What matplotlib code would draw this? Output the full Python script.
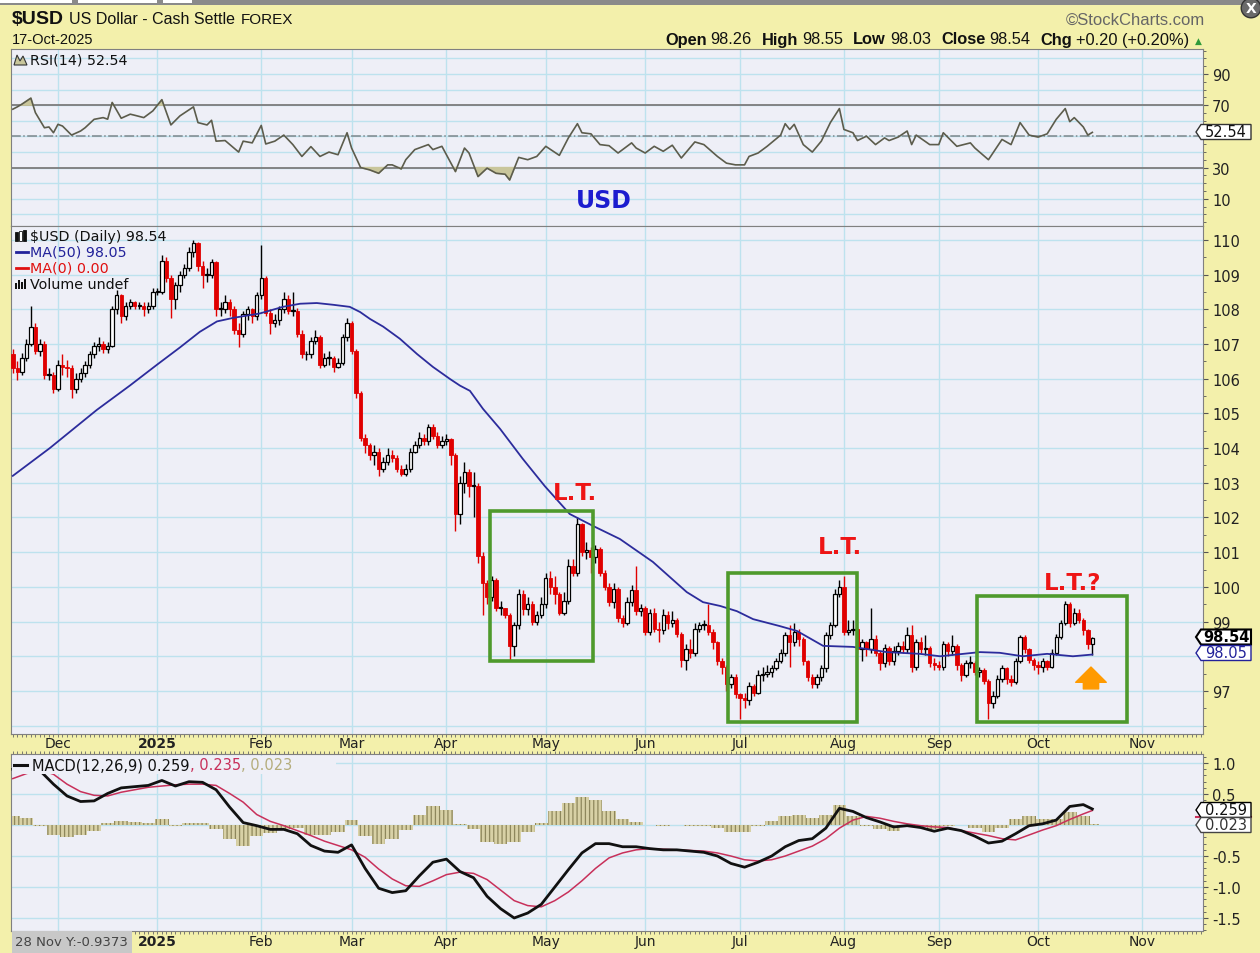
import numpy as np
import pandas as pd
import matplotlib
matplotlib.use('Agg')
import matplotlib.pyplot as plt
from matplotlib.patches import Rectangle, Polygon
from matplotlib.lines import Line2D
from matplotlib.ticker import MultipleLocator
from matplotlib.transforms import blended_transform_factory

plt.rcParams['font.family'] = ['DejaVu Sans']
plt.rcParams['hatch.color'] = '#8E875C'
plt.rcParams['hatch.linewidth'] = 0.9

# ---- daily candles, trading-day index 0 = 2 Dec 2024 (first bar = 18 Nov 2024) ----
first_open = 106.70
closes = [
    # Nov
    106.3, 106.2, 106.6, 107.0, 107.5, 106.8, 107.0, 106.1, 106.1, 105.7,
    # Dec
    106.4, 106.35, 106.3, 105.7, 106.0, 106.15, 106.4, 106.7, 106.95, 107.0,
    106.85, 106.95, 108.0, 108.4, 107.8, 108.1, 108.2, 108.1, 108.1, 108.0,
    108.1, 108.5,
    # Jan
    108.5, 109.4, 108.9, 108.3, 108.7, 109.0, 109.2, 109.65, 109.9, 109.25,
    109.0, 109.0, 109.35, 108.0, 108.0, 108.2, 108.0, 107.4, 107.3, 107.85,
    108.0, 107.8, 108.4,
    # Feb
    108.9, 107.9, 107.6, 107.7, 108.0, 108.3, 107.95, 107.95, 107.3, 106.7,
    106.7, 107.1, 107.2, 106.4, 106.6, 106.6, 106.35, 106.45, 107.2, 107.6,
    # Mar
    106.8, 105.6, 104.3, 104.1, 103.8, 103.9, 103.4, 103.6, 103.8, 103.7,
    103.4, 103.25, 103.4, 103.9, 104.1, 104.3, 104.2, 104.6, 104.35, 104.1, 104.2,
    # Apr
    104.25, 103.8, 102.1, 103.0, 103.3, 102.9, 102.9, 100.9, 100.1, 99.7,
    100.2, 99.4, 99.4, 99.2, 98.3, 98.9, 99.8, 99.35, 99.5, 99.0, 99.2, 99.5,
    # May
    100.25, 100.0, 99.8, 99.25, 99.6, 100.6, 100.4, 101.8, 101.0, 101.05,
    100.85, 101.1, 100.4, 100.0, 99.55, 99.95, 99.1, 98.95, 99.55, 99.9, 99.3, 99.4,
    # Jun
    98.7, 99.25, 98.8, 98.75, 99.2, 98.95, 99.05, 98.65, 97.9, 98.2,
    98.1, 98.8, 98.9, 98.9, 98.7, 98.4, 97.85, 97.7, 97.2, 97.4, 96.9,
    # Jul
    96.8, 96.75, 97.15, 96.95, 97.45, 97.5, 97.55, 97.65, 97.85, 98.1,
    98.6, 98.4, 98.7, 98.5, 97.85, 97.4, 97.2, 97.4, 97.65, 98.6, 98.9, 99.8, 100.0,
    # Aug
    98.7, 98.75, 98.8, 98.2, 98.4, 98.2, 98.5, 98.1, 97.8, 98.25,
    97.85, 98.15, 98.3, 98.2, 98.6, 97.7, 98.4, 98.2, 98.25, 97.8, 97.75,
    # Sep
    97.7, 98.35, 98.15, 98.3, 97.75, 97.45, 97.8, 97.8, 97.55, 97.6,
    97.3, 96.65, 96.85, 97.35, 97.65, 97.35, 97.25, 97.85, 98.55, 98.2, 97.9, 97.75,
    # Oct
    97.7, 97.85, 97.7, 98.1, 98.55, 98.95, 99.5, 98.95, 99.25, 99.05, 98.75, 98.34, 98.54,
]
highs = [
    106.85, 106.5, 106.75, 107.15, 108.1, 107.6, 107.15, 107.1, 106.3, 106.2,
    106.55, 106.7, 106.55, 106.4, 106.15, 106.3, 106.5, 106.8, 107.05, 107.2,
    107.1, 107.05, 108.1, 108.55, 108.45, 108.2, 108.3, 108.25, 108.2, 108.2,
    108.2, 108.6,
    108.6, 109.55, 109.5, 109.0, 108.8, 109.1, 109.3, 109.8, 110.0, 109.95,
    109.4, 109.2, 109.45, 109.4, 108.2, 108.4, 108.3, 108.1, 107.6, 107.95,
    108.1, 108.05, 108.5,
    109.85, 108.95, 108.0, 107.85, 108.1, 108.5, 108.4, 108.5, 108.05, 107.4,
    106.8, 107.2, 107.4, 107.25, 106.75, 106.8, 106.65, 106.6, 107.3, 107.75,
    107.65, 106.85, 105.65, 104.4, 104.15, 104.1, 104.0, 103.75, 104.0, 103.95,
    103.8, 103.5, 103.55, 104.0, 104.2, 104.45, 104.4, 104.7, 104.7, 104.45, 104.35,
    104.4, 104.3, 103.85, 103.2, 103.6, 103.4, 103.3, 103.0, 101.0, 100.2,
    100.3, 100.25, 99.6, 99.4, 99.25, 99.0, 99.95, 99.9, 99.7, 99.6, 99.3, 99.7,
    100.4, 100.45, 100.3, 99.85, 99.85, 100.8, 100.8, 102.0, 101.85, 101.3,
    101.15, 101.2, 101.15, 100.5, 100.1, 100.1, 100.0, 99.2, 99.7, 100.05, 100.6, 99.5,
    99.45, 99.35, 99.4, 99.0, 99.35, 99.3, 99.3, 99.1, 98.7, 98.35,
    98.5, 98.95, 99.0, 99.05, 99.5, 98.8, 98.45, 97.95, 97.75, 97.5, 97.5,
    96.95, 96.95, 97.25, 97.2, 97.6, 97.7, 97.75, 97.75, 97.95, 98.2,
    98.7, 98.9, 98.95, 98.8, 98.55, 97.9, 97.5, 97.5, 97.75, 98.7, 99.0, 99.95, 100.2,
    100.3, 99.05, 99.05, 98.85, 98.5, 98.45, 99.4, 98.6, 98.15, 98.35,
    98.3, 98.3, 98.4, 98.45, 98.85, 98.9, 98.5, 98.55, 98.6, 98.3, 97.95,
    97.85, 98.45, 98.4, 98.6, 98.35, 97.8, 97.9, 98.0, 97.85, 97.7,
    97.65, 97.35, 97.0, 97.45, 97.75, 97.7, 97.45, 97.95, 98.6, 98.6, 98.25, 97.95,
    97.85, 97.95, 97.9, 98.2, 98.65, 99.05, 99.6, 99.55, 99.4, 99.35, 99.1, 98.8, 98.55,
]
lows = [
    106.15, 105.95, 106.1, 106.5, 106.95, 106.7, 106.65, 106.0, 105.95, 105.6,
    105.65, 106.1, 106.05, 105.45, 105.6, 105.9, 106.05, 106.3, 106.6, 106.8,
    106.75, 106.75, 106.9, 107.85, 107.6, 107.7, 108.0, 108.0, 108.0, 107.8,
    107.9, 108.0,
    108.4, 108.45, 108.8, 107.75, 108.0, 108.5, 108.9, 109.1, 109.5, 109.1,
    108.6, 108.8, 108.9, 107.8, 107.8, 107.9, 107.8, 107.3, 106.9, 107.2,
    107.7, 107.6, 107.7,
    108.3, 107.8, 107.3, 107.5, 107.55, 107.9, 107.85, 107.8, 107.2, 106.6,
    106.55, 106.6, 107.0, 106.3, 106.35, 106.4, 106.2, 106.3, 106.4, 107.1,
    106.7, 105.45, 104.2, 103.85, 103.65, 103.5, 103.2, 103.3, 103.5, 103.6,
    103.3, 103.2, 103.2, 103.3, 103.85, 104.0, 104.1, 104.1, 104.25, 104.0, 104.0,
    104.1, 103.5, 101.6, 101.8, 102.7, 102.6, 102.0, 100.7, 99.2, 99.5,
    99.6, 99.3, 99.2, 99.1, 97.9, 98.0, 98.8, 99.2, 99.2, 98.9, 98.9, 99.1,
    99.4, 99.8, 99.5, 99.2, 99.2, 99.5, 100.3, 100.3, 100.9, 100.8,
    100.4, 100.7, 100.3, 99.9, 99.45, 99.4, 99.0, 98.85, 98.9, 99.45, 99.2, 99.15,
    98.6, 98.6, 98.7, 98.4, 98.65, 98.8, 98.85, 98.55, 97.7, 97.6,
    97.95, 98.0, 98.7, 98.75, 98.6, 98.2, 97.75, 97.5, 97.0, 97.1, 96.8,
    96.2, 96.5, 96.6, 96.85, 96.9, 97.3, 97.4, 97.4, 97.6, 97.8,
    98.0, 97.7, 98.3, 98.3, 97.75, 97.3, 97.1, 97.1, 97.3, 97.55, 98.5, 98.85, 99.7,
    98.6, 98.6, 98.6, 98.1, 97.85, 98.0, 98.1, 98.0, 97.6, 97.7,
    97.75, 97.75, 98.05, 98.1, 98.1, 97.55, 97.6, 98.1, 98.05, 97.7, 97.6,
    97.6, 97.6, 98.0, 98.05, 97.6, 97.3, 97.4, 97.65, 97.45, 97.4,
    97.2, 96.2, 96.5, 96.8, 97.25, 97.2, 97.15, 97.2, 97.8, 98.1, 97.8, 97.6,
    97.5, 97.55, 97.6, 97.65, 98.05, 98.5, 98.9, 98.85, 98.9, 98.95, 98.6, 98.2, 98.03,
]

# MA(50) (session index, value)
ma50_days = [-10, -1.8, 8.6, 15.9, 21.9, 27.0, 31.4, 35.2, 38.7, 44.7, 49.8, 53.6, 57.3,
             60.9, 64.6, 66.9, 69.1, 72.0, 75.7, 79.5, 83.0, 86.8, 89.0, 91.2, 94.1, 97.9,
             102.9, 107.8, 113.3, 118.4, 124.4, 131.7, 139.2, 142.8, 146.6, 150.3, 153.9,
             159.8, 163.6, 169.4, 176.0, 183.5, 190.8, 195.3, 204.1, 208.5, 213.6, 219.0,
             224.7, 229]
ma50_vals = [103.2, 104.0, 105.1, 105.8, 106.4, 106.9, 107.35, 107.65, 107.75, 107.88,
             108.07, 108.16, 108.18, 108.13, 108.07, 107.92, 107.72, 107.5, 107.15, 106.71,
             106.34, 105.99, 105.8, 105.65, 105.13, 104.55, 103.69, 102.9, 102.1, 101.76,
             101.38, 100.72, 99.85, 99.56, 99.45, 99.3, 99.07, 98.87, 98.73, 98.3, 98.27,
             98.12, 98.07, 98.0, 98.12, 98.1, 98.0, 98.07, 98.0, 98.05]

# RSI(14)
rsi_days = [-10, -9, -8, -6, -5, -3, -2, -1, 0, 1, 3, 5, 6, 8, 10, 11, 12, 14, 16, 17,
            19, 21, 23, 25, 27, 30, 31, 33, 34, 35, 37, 40, 41, 43, 45, 46, 48, 50, 52, 54,
            56, 58, 60, 62, 64, 65, 67, 69, 71, 73, 74, 76, 77, 79, 82, 83, 85, 88, 90, 91,
            93, 95, 97, 99, 100, 102, 104, 106, 108, 111, 113, 115, 116, 118, 120, 122, 124, 127, 128, 130,
            132, 134, 136, 138, 141, 143, 146, 148, 150, 152, 153, 155, 157, 160, 161, 162, 163, 165, 167, 169,
            171, 173, 174, 176, 177, 179, 181, 183, 184, 186, 188, 189, 190, 193, 195, 196, 199, 202, 203, 206,
            208, 209, 211, 213, 215, 217, 219, 221, 223, 224, 225, 227, 228, 229]
rsi_vals = [67.4, 68.9, 70.6, 74.5, 65.2, 55.5, 56.0, 52.3, 57.7, 56.6,
            50.8, 53.4, 55.5, 60.9, 62.0, 61.0, 71.7, 61.6, 64.2, 63.5,
            62.0, 66.3, 73.5, 57.3, 63.1, 68.9, 58.8, 57.3, 60.3, 46.9,
            47.3, 39.9, 46.9, 45.8, 57.0, 45.1, 46.9, 50.8, 44.7, 37.1,
            43.4, 37.1, 39.9, 38.2, 52.3, 42.5, 30.0, 28.5, 26.3, 31.7,
            31.7, 29.1, 35.0, 41.5, 44.7, 41.5, 43.6, 27.4, 42.5, 39.3,
            24.2, 29.6, 26.3, 25.7, 22.0, 36.5, 35.0, 37.1, 43.6, 37.8,
            49.0, 58.1, 52.3, 51.6, 44.7, 44.0, 39.3, 45.8, 42.5, 39.3,
            43.6, 40.4, 44.3, 36.1, 46.4, 44.7, 37.1, 32.8, 31.7, 31.7,
            37.1, 39.3, 43.6, 50.8, 58.1, 54.4, 57.7, 44.7, 39.9, 46.9,
            58.8, 67.8, 54.4, 52.3, 47.3, 50.1, 44.7, 49.0, 47.3, 49.5,
            53.4, 44.7, 50.8, 44.7, 44.7, 52.3, 43.6, 45.8, 42.5, 35.0,
            43.6, 48.0, 44.7, 58.8, 50.8, 49.5, 51.6, 60.9, 67.8, 59.4,
            62.0, 56.0, 50.8, 52.54]

# MACD(12,26,9), read every third session
macd_days = list(range(-10, 228, 3)) + [229]
macd_vals = [0.90, 0.94, 0.88, 0.66,
             0.47, 0.38, 0.39, 0.51, 0.60, 0.62, 0.64, 0.72, 0.63, 0.70,
             0.69, 0.57, 0.29, 0.04, -0.01, -0.07, -0.07, -0.14, -0.33, -0.42,
             -0.44, -0.32, -0.70, -1.02, -1.09, -1.06, -0.82, -0.60, -0.55, -0.75,
             -0.85, -1.15, -1.35, -1.50, -1.42, -1.28, -1.00, -0.72, -0.45, -0.30,
             -0.30, -0.35, -0.35, -0.38, -0.40, -0.40, -0.42, -0.44, -0.50, -0.62,
             -0.68, -0.60, -0.50, -0.35, -0.25, -0.22, -0.05, 0.27, 0.22, 0.12,
             0.05, -0.03, -0.01, -0.04, -0.10, -0.05, -0.09, -0.18, -0.29, -0.26,
             -0.14, -0.01, 0.02, 0.08, 0.30, 0.33, 0.259]
signal_vals = [0.75, 0.83, 0.89, 0.82,
               0.66, 0.54, 0.48, 0.47, 0.53, 0.57, 0.61, 0.63, 0.65, 0.66,
               0.66, 0.64, 0.51, 0.37, 0.17, 0.06, -0.01, -0.09, -0.17, -0.26,
               -0.33, -0.40, -0.52, -0.71, -0.87, -0.98, -0.99, -0.90, -0.80, -0.76,
               -0.78, -0.88, -1.05, -1.22, -1.30, -1.32, -1.22, -1.08, -0.90, -0.70,
               -0.53, -0.45, -0.40, -0.38, -0.39, -0.40, -0.41, -0.42, -0.45, -0.50,
               -0.56, -0.58, -0.56, -0.50, -0.42, -0.34, -0.22, -0.05, 0.08, 0.14,
               0.11, 0.06, 0.02, -0.01, -0.03, -0.04, -0.09, -0.13, -0.17, -0.22,
               -0.24, -0.16, -0.08, -0.01, 0.09, 0.18, 0.235]

month_names = ['Dec', '2025', 'Feb', 'Mar', 'Apr', 'May', 'Jun', 'Jul', 'Aug', 'Sep', 'Oct', 'Nov']

W, H = 1260, 954
BG = '#F3F0AB'
PANEL = '#EEEFF7'
GRID = '#BDE2EE'
XL = (-10.4, 253.5)

idx = np.arange(-10, -10 + len(closes))
c = np.array(closes)
o = np.r_[first_open, c[:-1]]
hi = np.maximum(np.array(highs), np.maximum(o, c))
lo = np.minimum(np.array(lows), np.minimum(o, c))

dates = pd.bdate_range('2024-11-18', periods=264)
month_starts = [i - 10 for i in range(1, len(dates)) if dates[i].month != dates[i - 1].month]

fig = plt.figure(figsize=(12.6, 9.54), dpi=100)
fig.patch.set_facecolor(BG)


def F(x, y):
    return (x / W, 1 - y / H)


def prect(x0, y0, x1, y1, **kw):
    fig.patches.append(Rectangle((x0 / W, 1 - y1 / H), (x1 - x0) / W, (y1 - y0) / H,
                                 transform=fig.transFigure, **kw))


def panel(top, bottom):
    a = fig.add_axes([11 / W, 1 - bottom / H, 1192 / W, (bottom - top) / H])
    a.set_facecolor(PANEL)
    a.set_xlim(XL)
    for s in a.spines.values():
        s.set_color('#808080')
    a.yaxis.tick_right()
    a.tick_params(axis='y', which='both', direction='out', color='#555', labelsize=10.5,
                  labelcolor='#222', pad=3)
    a.tick_params(axis='y', which='major', length=3.5)
    a.tick_params(axis='y', which='minor', length=2)
    a.set_xticks([])
    for m in month_starts:
        a.axvline(m, color=GRID, lw=1, zorder=0)
    return a


ax_r = panel(50, 227)
ax = panel(227, 735)
ax_m = panel(755, 932)

# ---- RSI ----
ax_r.set_ylim(-7.5, 106)
for v in range(0, 101, 10):
    ax_r.axhline(v, color=GRID, lw=1, zorder=0)
ax_r.axhline(70, color='#7c7c7c', lw=1.3, zorder=1)
ax_r.axhline(30, color='#7c7c7c', lw=1.3, zorder=1)
ax_r.axhline(50, color='#7d878c', lw=1.1, ls='-.', zorder=1)
rd = np.array(rsi_days)
rv = np.array(rsi_vals)
ax_r.fill_between(rd, rv, 30, where=rv < 30, interpolate=True, color='#c9c69b', zorder=2)
ax_r.fill_between(rd, rv, 70, where=rv > 70, interpolate=True, color='#c9c69b', zorder=2)
ax_r.plot(rd, rv, color='#5c5c4c', lw=1.2, zorder=3)
ax_r.set_yticks([10, 30, 70, 90])
ax_r.yaxis.set_minor_locator(MultipleLocator(5))

# ---- price ----
ax.set_ylim(95.76, 110.40)
for v in range(96, 111):
    ax.axhline(v, color=GRID, lw=1, zorder=0)
up = c >= o
red = '#E00000'
ax.vlines(idx[up], lo[up], hi[up], color='black', lw=1.0, zorder=2)
ax.vlines(idx[~up], lo[~up], hi[~up], color=red, lw=1.0, zorder=2)
body_lo = np.minimum(o, c)
body_h = np.maximum(np.abs(c - o), 0.025)
ax.bar(idx[up], body_h[up], bottom=body_lo[up], width=0.75, facecolor='white',
       edgecolor='black', lw=0.9, zorder=3)
ax.bar(idx[~up], body_h[~up], bottom=body_lo[~up], width=0.75, facecolor=red,
       edgecolor=red, lw=0.6, zorder=3)
ax.plot(ma50_days, ma50_vals, color='#2c2c9c', lw=1.3, zorder=4)
ax.set_yticks([97] + list(range(99, 111)))
ax.yaxis.set_minor_locator(MultipleLocator(0.5))
ax.xaxis.set_minor_locator(MultipleLocator(1))
ax.tick_params(axis='x', which='minor', bottom=True, top=False, direction='out', length=2.5,
               color='#666')

# annotation boxes and labels
green = '#4E9A2C'
for x0, x1, y0, y1 in [(95.6, 118.4, 97.86, 102.19), (148.3, 176.9, 96.11, 100.40),
                       (203.5, 236.7, 96.11, 99.74)]:
    ax.add_patch(Rectangle((x0, y0), x1 - x0, y1 - y0, fill=False, ec=green, lw=2.6, zorder=5))
for x, y, s in [(114.5, 102.71, 'L.T.'), (173.1, 101.15, 'L.T.'), (224.7, 100.14, 'L.T.?')]:
    ax.text(x, y, s, color='#EE1515', fontsize=16.5, fontweight='bold', ha='center',
            va='center', zorder=6)
ax.annotate('', xy=(228.7, 97.69), xytext=(228.7, 97.06),
            arrowprops=dict(arrowstyle='simple,head_width=1.1,head_length=0.55,tail_width=0.55',
                            fc='#FF9A00', ec='#FF9A00', mutation_scale=20, shrinkA=0, shrinkB=0),
            zorder=6)

# ---- MACD ----
ax_m.set_ylim(-1.71, 1.147)
for v in [1.0, 0.5, 0.0, -0.5, -1.0, -1.5]:
    ax_m.axhline(v, color=GRID, lw=1, zorder=0)
md = np.array(macd_days)
mv = np.array(macd_vals)
sv = np.array(signal_vals)
ax_m.bar(md, mv - sv, width=3.0, facecolor='#D8D1A6', edgecolor='#8E875C', lw=0,
         hatch='||||', zorder=2)
ax_m.plot(md, sv, color='#C8305A', lw=1.1, zorder=3)
ax_m.plot(md, mv, color='#111111', lw=2.0, zorder=4)
ax_m.set_yticks([1.0, 0.5, -0.5, -1.0, -1.5])
ax_m.set_yticklabels(['1.0', '0.5', '-0.5', '-1.0', '-1.5'])
ax_m.yaxis.set_minor_locator(MultipleLocator(0.1))
ax_m.xaxis.set_minor_locator(MultipleLocator(1))
ax_m.tick_params(axis='x', which='minor', bottom=True, top=True, direction='out', length=2.5,
                 color='#666')

# month labels (the bottom 'Dec' sits under the crosshair readout box)
for a, off, skip in [(ax, -9 / 508, None), (ax_m, -10 / 177, 'Dec')]:
    tr = blended_transform_factory(a.transData, a.transAxes)
    for m, name in zip(month_starts, month_names):
        if name == skip:
            continue
        a.text(m, off, name, transform=tr, ha='center', va='center', fontsize=10,
               color='#222', fontweight='bold' if name == '2025' else 'normal')

# ---- texts in pixel positions ----
fig.canvas.draw()
rend = fig.canvas.get_renderer()


def chain(x, y, parts, ha='left', **common):
    arts, widths = [], []
    for s, kw, gap in parts:
        t = fig.text(0, 0, s, va='center', **{**common, **kw})
        arts.append((t, gap))
        widths.append(t.get_window_extent(rend).width + gap)
    cur = x - sum(widths) if ha == 'right' else x
    for (t, gap), w in zip(arts, widths):
        t.set_position(F(cur, y))
        cur += w


# top strip
prect(0, 0, 1260, 6, fc='#8a8a8a', ec='none', zorder=1)
for x0, x1 in [(0, 72), (78, 157), (163, 192)]:
    prect(x0, 0, x1, 4, fc='white', ec='none', zorder=1)
fig.text(1251 / W, 1 - 9 / H, 'X', fontsize=10, fontweight='bold', color='white', ha='center',
         va='center', bbox=dict(boxstyle='circle,pad=0.2', fc='#6a6a6a', ec='#333'))

hdr = dict(family='Liberation Sans', color='#111')
chain(12, 20, [('$USD', {'fontsize': 14, 'fontweight': 'bold'}, 5),
               ('US Dollar - Cash Settle', {'fontsize': 11.5}, 6),
               ('FOREX', {'fontsize': 11}, 0)], **hdr)
fig.text(12 / W, 1 - 40 / H, '17-Oct-2025', fontsize=10.5, va='center', **hdr)
fig.text(1205 / W, 1 - 20 / H, '\u00a9StockCharts.com', fontsize=12, va='center', ha='right',
         family='Liberation Sans', color='#666')
n11 = {'fontsize': 11.8}
b11 = {'fontsize': 11.8, 'fontweight': 'bold'}
chain(1189, 40, [('Open', b11, 4), ('98.26', n11, 10), ('High', b11, 4), ('98.55', n11, 10),
                 ('Low', b11, 4), ('98.03', n11, 10), ('Close', b11, 4), ('98.54', n11, 10),
                 ('Chg', b11, 4), ('+0.20 (+0.20%)', n11, 0)], ha='right', **hdr)
fig.text(1198 / W, 1 - 41 / H, '\u25b2', fontsize=6.5, color='#2E9A3A', ha='center', va='center')

# panel legends
fig.patches.append(Polygon([F(14, 66), F(17, 56), F(20, 62), F(23, 57), F(27, 66)],
                           closed=True, transform=fig.transFigure, fc='#c9c69b', ec='#333',
                           lw=0.8, zorder=2))
fig.text(30 / W, 1 - 60 / H, 'RSI(14) 52.54', fontsize=10.3, va='center', color='#111')
fig.text(604 / W, 1 - 201 / H, 'USD', fontsize=17, fontweight='bold', color='#1C1CCF',
         ha='center', va='center')

for k, xx in enumerate([15, 19, 23]):
    prect(xx, 233 - k, xx + 2.5, 242, fc='#111' if k != 1 else 'white', ec='#111', lw=0.6, zorder=2)
fig.text(30 / W, 1 - 237 / H, '$USD (Daily) 98.54', fontsize=10.3, va='center', color='#111')
fig.lines.append(Line2D([16 / W, 28 / W], [1 - 253 / H] * 2, color='#22229A', lw=2,
                        transform=fig.transFigure))
fig.text(30 / W, 1 - 253 / H, 'MA(50) 98.05', fontsize=10.3, va='center', color='#22229A')
fig.lines.append(Line2D([16 / W, 28 / W], [1 - 269 / H] * 2, color='#E01010', lw=2,
                        transform=fig.transFigure))
fig.text(30 / W, 1 - 269 / H, 'MA(0) 0.00', fontsize=10.3, va='center', color='#E01010')
for k, hh in enumerate([6, 9, 7, 10]):
    prect(15 + k * 3, 290 - hh, 17 + k * 3, 290, fc='#111', ec='none', zorder=2)
fig.text(30 / W, 1 - 285 / H, 'Volume undef', fontsize=10.3, va='center', color='#111')

prect(12, 757, 336, 775, fc=PANEL, ec='none', zorder=1)
fig.lines.append(Line2D([14 / W, 27 / W], [1 - 766 / H] * 2, color='#111', lw=2.2,
                        transform=fig.transFigure))
chain(32, 766, [('MACD(12,26,9) 0.259', {'color': '#111'}, 0),
                (', 0.235', {'color': '#C8305A'}, 0),
                (', 0.023', {'color': '#B5AD7C'}, 0)], fontsize=10.5)

# value tags on the right axis
fig.lines.append(Line2D([1196 / W, 1251 / W], [1 - 818 / H] * 2, color='#C8305A', lw=1.5,
                        transform=fig.transFigure))


def tag(y, s, ec, tc, bold=False, lw=1.0):
    pts = [F(1196, y), F(1201, y - 7.5), F(1251, y - 7.5), F(1251, y + 7.5), F(1201, y + 7.5)]
    fig.patches.append(Polygon(pts, closed=True, transform=fig.transFigure, fc='white', ec=ec,
                               lw=lw, zorder=4))
    fig.text(1226 / W, 1 - y / H, s, ha='center', va='center', fontsize=10.5, color=tc,
             fontweight='bold' if bold else 'normal', zorder=5)


tag(133, '52.54', '#333', '#111')
tag(638, '98.54', '#000', '#000', bold=True, lw=1.5)
tag(654, '98.05', '#22229A', '#22229A')
tag(811, '0.259', '#000', '#111')
tag(826, '0.023', '#444', '#333')

# crosshair readout bottom-left
prect(12, 932, 132, 954, fc='#C8C8C8', ec='none', zorder=1)
fig.text(15 / W, 1 - 943 / H, '28 Nov Y:-0.9373', fontsize=9.5, va='center', color='#444')

fig.savefig('out.png', dpi=100, facecolor=BG)
